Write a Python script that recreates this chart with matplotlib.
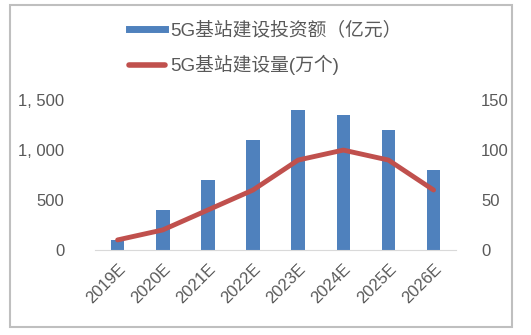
import matplotlib.pyplot as plt
from matplotlib.ticker import FuncFormatter
from matplotlib.patches import Rectangle
from matplotlib.lines import Line2D

years = ["2019E", "2020E", "2021E", "2022E", "2023E", "2024E", "2025E", "2026E"]
invest = [100, 400, 700, 1100, 1400, 1350, 1200, 800]      # 亿元
stations = [10, 20, 40, 60, 90, 100, 90, 60]               # 万个

plt.rcParams['font.family'] = ['Liberation Sans', 'Noto Sans CJK SC', 'DejaVu Sans']
grey = '#595959'

fig = plt.figure(figsize=(5.31, 3.35), dpi=100)
ax = fig.add_axes([0.179, 0.254, 0.680, 0.447])
ax2 = ax.twinx()

x = range(len(years))
ax.bar(x, invest, width=0.3, color='#4F81BD')
ax2.plot(x, stations, color='#C0504D', lw=3.5, solid_capstyle='round')

ax.set_xlim(-0.5, len(years) - 0.5)
ax.set_ylim(0, 1500)
ax2.set_ylim(0, 150)
ax.set_yticks([0, 500, 1000, 1500])
ax2.set_yticks([0, 50, 100, 150])
ax.yaxis.set_major_formatter(FuncFormatter(lambda v, p: f"{v:,.0f}".replace(",", ", ")))

ax.set_xticks(list(x))
ax.set_xticklabels(years, rotation=45, ha='right', rotation_mode='anchor')

for a in (ax, ax2):
    for s in a.spines.values():
        s.set_visible(False)
    a.tick_params(length=0, labelsize=12, colors=grey)
ax.tick_params(axis='y', pad=22)
ax2.tick_params(axis='y', pad=18)
ax.tick_params(axis='x', pad=8)
ax.spines['bottom'].set_visible(True)
ax.spines['bottom'].set_color('#d9d9d9')

# legend above the plot, two rows
handles = [Line2D([0], [0], color='#4F81BD', lw=5),
           Line2D([0], [0], color='#C0504D', lw=4, solid_capstyle='round')]
leg = fig.legend(handles, ['5G基站建设投资额（亿元）', '5G基站建设量(万个)'],
                 loc='center', bbox_to_anchor=(0.5, 0.856), ncol=1, frameon=False,
                 fontsize=13.5, labelcolor=grey, handlelength=1.9, handletextpad=0.3,
                 labelspacing=0.85)

# outer frame
fig.patches.append(Rectangle((0.019, 0.024), 0.945, 0.96, transform=fig.transFigure,
                             fill=False, edgecolor='#bfbfbf', lw=1.5))

fig.savefig('out.png', dpi=100)
